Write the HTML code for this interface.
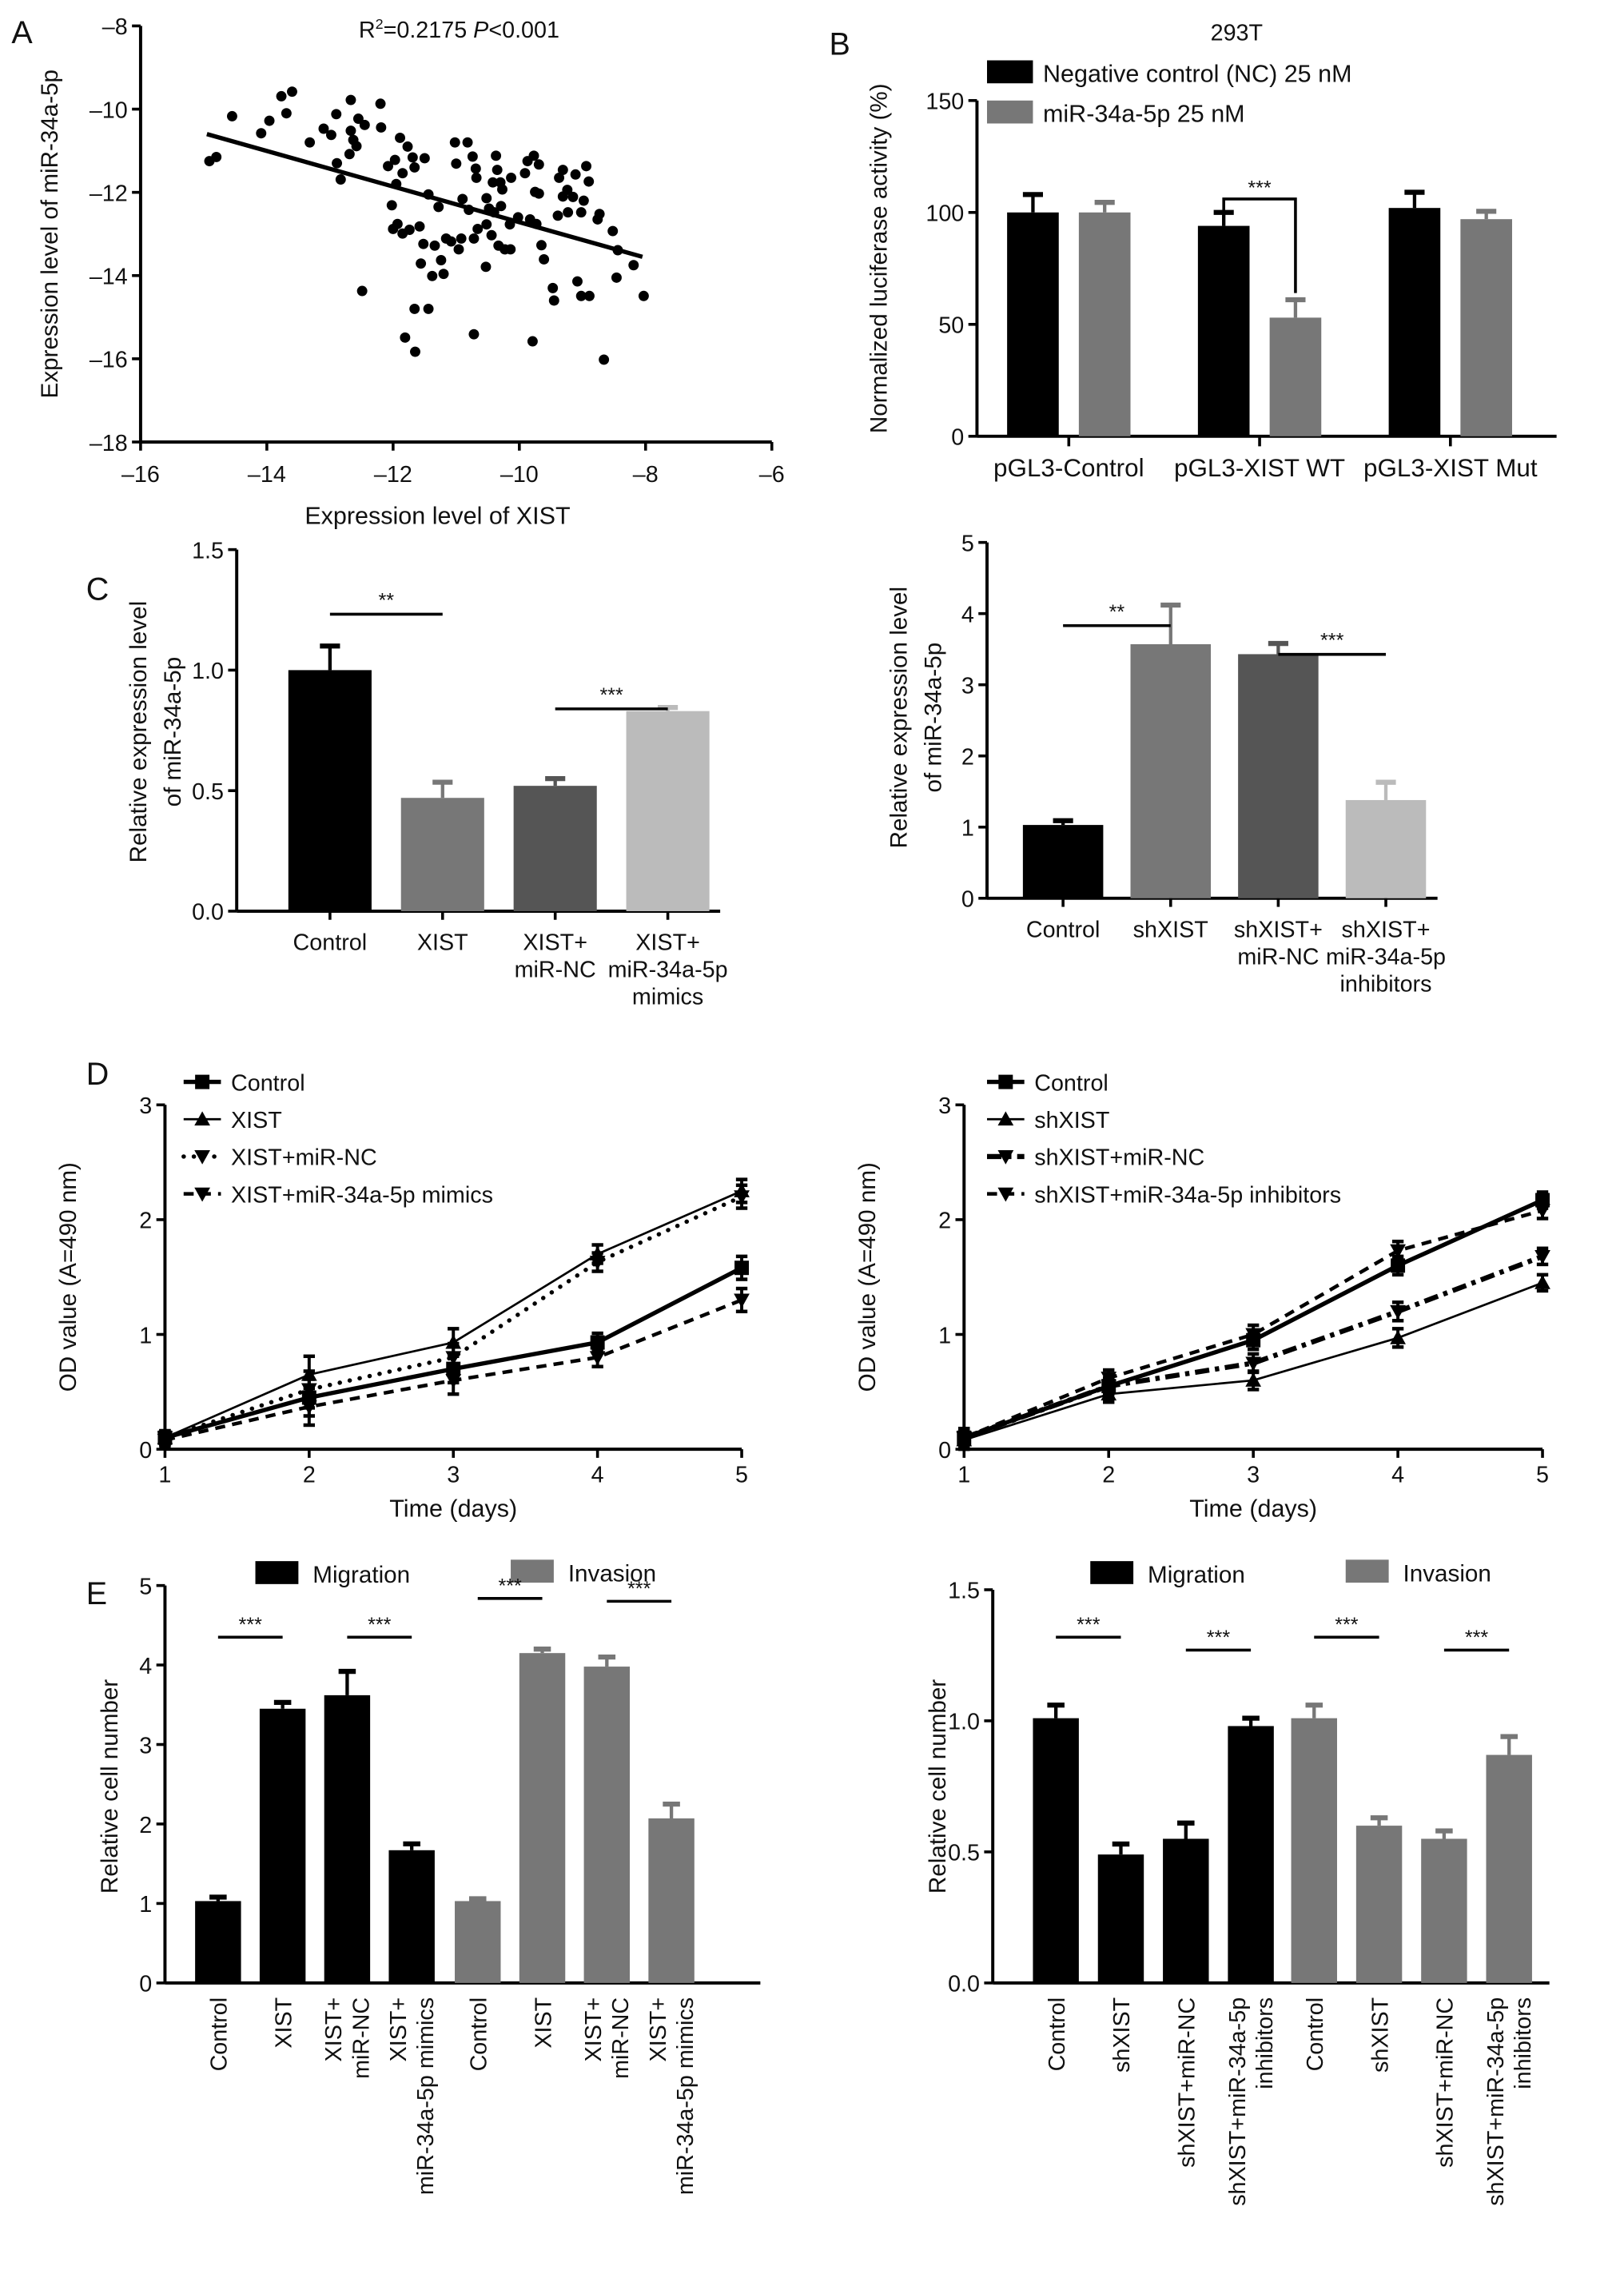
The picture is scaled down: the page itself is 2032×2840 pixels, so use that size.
<!DOCTYPE html>
<html><head><meta charset="utf-8"><style>
html,body{margin:0;padding:0;background:#fff;}
svg{display:block;font-family:"Liberation Sans",Arial,sans-serif;}
</style></head><body>
<svg id="fig" width="2032" height="2840" viewBox="0 0 1132 1582" xmlns="http://www.w3.org/2000/svg"></svg>
<script>
// ---------- data ----------
const scatterX=[-14.91,-14.8,-14.55,-14.09,-13.96,-13.77,-13.69,-13.6,-13.32,-13.1,-12.98,-12.9,-12.89,-12.83,-12.69,-12.67,-12.67,-12.63,-12.58,-12.55,-12.45,-12.49,-12.2,-12.19,-12.08,-12.02,-11.97,-11.95,-12.0,-11.93,-11.89,-11.85,-11.85,-11.77,-11.81,-11.74,-11.69,-11.66,-11.66,-11.65,-11.58,-11.56,-11.52,-11.5,-11.44,-11.44,-11.38,-11.34,-11.28,-11.24,-11.2,-11.16,-11.08,-11.02,-11.0,-10.96,-10.92,-10.9,-10.82,-10.8,-10.74,-10.72,-10.69,-10.68,-10.72,-10.66,-10.53,-10.52,-10.52,-10.48,-10.44,-10.42,-10.4,-10.37,-10.35,-10.33,-10.3,-10.29,-10.27,-10.23,-10.15,-10.14,-10.13,-10.02,-9.91,-9.87,-9.83,-9.79,-9.77,-9.75,-9.73,-9.69,-9.69,-9.65,-9.61,-9.47,-9.45,-9.39,-9.37,-9.31,-9.31,-9.24,-9.23,-9.15,-9.11,-9.08,-9.02,-9.02,-8.98,-8.94,-8.9,-8.89,-8.76,-8.73,-8.66,-8.52,-8.46,-8.44,-8.19,-8.03];
const scatterY=[-11.25,-11.15,-10.17,-10.58,-10.28,-9.69,-10.1,-9.58,-10.8,-10.47,-10.62,-10.12,-11.3,-11.69,-11.08,-9.78,-10.52,-10.74,-10.89,-10.23,-10.38,-14.37,-9.87,-10.44,-11.37,-12.31,-11.22,-11.8,-12.88,-12.76,-10.69,-11.54,-12.99,-10.9,-15.49,-12.9,-11.16,-11.4,-14.8,-15.83,-12.82,-13.71,-13.24,-11.18,-12.05,-14.8,-14.01,-13.28,-12.35,-13.63,-13.96,-13.11,-13.18,-10.8,-11.31,-13.37,-13.11,-12.16,-10.8,-12.42,-11.14,-13.11,-11.43,-11.65,-15.41,-12.88,-13.79,-12.14,-12.77,-12.39,-13.03,-11.76,-12.48,-11.12,-11.46,-13.28,-11.76,-12.33,-11.93,-13.37,-12.77,-13.37,-11.65,-12.6,-11.54,-11.25,-12.65,-15.58,-11.12,-11.99,-12.76,-11.33,-12.03,-13.27,-13.61,-14.3,-14.6,-12.56,-11.65,-11.46,-12.1,-11.94,-12.48,-12.11,-11.57,-14.14,-14.49,-12.48,-12.2,-11.37,-11.74,-14.49,-12.65,-12.52,-16.02,-12.93,-14.05,-13.39,-13.75,-14.49];
const fitX=[-14.95,-8.05];
const fitY=[-10.6,-13.55];

const bCategories=["pGL3-Control","pGL3-XIST WT","pGL3-XIST Mut"];
const bNC=[100,94,102];
const bNCerr=[8,6,7];
const bMiR=[100,53,97];
const bMiRerr=[4.5,8,3.5];

const cLeftCats=[["Control"],["XIST"],["XIST+","miR-NC"],["XIST+","miR-34a-5p","mimics"]];
const cLeftVals=[1.0,0.47,0.52,0.83];
const cLeftErr=[0.1,0.065,0.03,0.015];
const cRightCats=[["Control"],["shXIST"],["shXIST+","miR-NC"],["shXIST+","miR-34a-5p","inhibitors"]];
const cRightVals=[1.03,3.57,3.43,1.38];
const cRightErr=[0.06,0.55,0.15,0.25];

const dDays=[1,2,3,4,5];
const dLeftNames=["Control","XIST","XIST+miR-NC","XIST+miR-34a-5p mimics"];
const dLeftControl=[0.1,0.45,0.7,0.93,1.58];
const dLeftXIST=[0.1,0.65,0.93,1.7,2.25];
const dLeftNC=[0.1,0.52,0.8,1.63,2.2];
const dLeftMimics=[0.08,0.37,0.6,0.8,1.3];
const dLeftErr=[0.06,0.16,0.12,0.08,0.1];
const dRightNames=["Control","shXIST","shXIST+miR-NC","shXIST+miR-34a-5p inhibitors"];
const dRightControl=[0.1,0.55,0.95,1.6,2.17];
const dRightSh=[0.08,0.48,0.6,0.97,1.45];
const dRightNC=[0.1,0.55,0.75,1.2,1.68];
const dRightInh=[0.1,0.62,1.0,1.73,2.08];
const dRightErr=[0.08,0.07,0.08,0.08,0.07];

const eLeftCats=[["Control"],["XIST"],["XIST+","miR-NC"],["XIST+","miR-34a-5p mimics"]];
const eLeftMig=[1.03,3.45,3.62,1.67];
const eLeftMigErr=[0.05,0.08,0.3,0.08];
const eLeftInv=[1.03,4.15,3.98,2.07];
const eLeftInvErr=[0.03,0.05,0.12,0.18];
const eRightCats=[["Control"],["shXIST"],["shXIST+miR-NC"],["shXIST+miR-34a-5p","inhibitors"]];
const eRightMig=[1.01,0.49,0.55,0.98];
const eRightMigErr=[0.05,0.04,0.06,0.03];
const eRightInv=[1.01,0.6,0.55,0.87];
const eRightInvErr=[0.05,0.03,0.03,0.07];

// ---------- helpers ----------
const NS='http://www.w3.org/2000/svg';
const svg=document.getElementById('fig');
function el(tag,attrs,name,parent){
  const e=document.createElementNS(NS,tag);
  for(const k in attrs) e.setAttribute(k,attrs[k]);
  
  
  (parent||svg).appendChild(e);
  return e;
}
function txt(x,y,s,name,size,anchor,extra){
  const a={x:x,y:y,'font-size':size||16,'text-anchor':anchor||'middle',fill:'#111'};
  if(extra) for(const k in extra) a[k]=extra[k];
  const t=el('text',a,name);
  t.textContent=s;
  return t;
}
function line(x1,y1,x2,y2,name,w,extra){
  const a={x1:x1,y1:y1,x2:x2,y2:y2,stroke:'#000','stroke-width':w||2};
  if(extra) for(const k in extra) a[k]=extra[k];
  return el('line',a,name);
}
function fmtNeg(v){return v<0?'\u2013'+Math.abs(v):String(v);}
function yAxis(x,yOf,ticks,labels,top,bottom,name){
  line(x,top,x,bottom,name+'-line',2.2);
  ticks.forEach((v,i)=>{
    line(x-6,yOf(v),x,yOf(v),name+'-tick',2);
    txt(x-9,yOf(v)+6,labels[i],name+'-tick-label',16,'end');
  });
}
function ylabel(x,cy,lines,name){
  lines.forEach((s,i)=>{
    txt(x+i*24,cy,s,name,16.5,'middle',{transform:'rotate(-90 '+(x+i*24)+' '+cy+')'});
  });
}
function errBar(cx,yTop,yEnd,name,color,w){
  line(cx,yTop,cx,yEnd,name,2.4,{stroke:color||'#000'});
  line(cx-(w||7),yEnd,cx+(w||7),yEnd,name+'-cap',3.5,{stroke:color||'#000'});
}

// ---------- Panel A ----------
(function(){
  const ax=v=>98+(v+16)*44, ay=v=>18+(-8-v)*29;
  txt(8,30,'A','panel-label-a',22,'start');
  const t=txt(320,26,'','correlation-stats',16);
  const s1=document.createElementNS(NS,'tspan');s1.textContent='R';t.appendChild(s1);
  const s2=document.createElementNS(NS,'tspan');s2.setAttribute('font-size','10');s2.setAttribute('dy','-6');s2.textContent='2';t.appendChild(s2);
  const s3=document.createElementNS(NS,'tspan');s3.setAttribute('dy','6');s3.textContent='=0.2175  ';t.appendChild(s3);
  const s4=document.createElementNS(NS,'tspan');s4.setAttribute('font-style','italic');s4.textContent='P';t.appendChild(s4);
  const s5=document.createElementNS(NS,'tspan');s5.textContent='<0.001';t.appendChild(s5);
  yAxis(98,ay,[-8,-10,-12,-14,-16,-18],[-8,-10,-12,-14,-16,-18].map(fmtNeg),18,308,'a-y-axis');
  line(98,308,538,308,'a-x-axis-line',2.2);
  [-16,-14,-12,-10,-8,-6].forEach(v=>{
    line(ax(v),308,ax(v),314,'a-x-tick',2);
    txt(ax(v),336,fmtNeg(v),'a-x-tick-label',16);
  });
  txt(305,365,'Expression level of XIST','a-x-axis-title',17);
  ylabel(40,163,['Expression level of miR-34a-5p'],'a-y-axis-title');
  scatterX.forEach((v,i)=>{
    el('circle',{cx:ax(v),cy:ay(scatterY[i]),r:3.6,fill:'#000'},'scatter-point');
  });
  line(ax(fitX[0]),ay(fitY[0]),ax(fitX[1]),ay(fitY[1]),'regression-line',3);
})();

// ---------- Panel B ----------
(function(){
  const by=v=>304-v*1.56;
  txt(578,38,'B','panel-label-b',22,'start');
  txt(862,28,'293T','b-title',16);
  yAxis(681,by,[0,50,100,150],['0','50','100','150'],by(150),304,'b-y-axis');
  line(681,304,1085,304,'b-x-axis-line',2.2);
  ylabel(618,180,['Normalized luciferase activity (%)'],'b-y-axis-title');
  el('rect',{x:688,y:42,width:32,height:16,fill:'#000'},'legend-swatch-nc');
  txt(727,57,'Negative control (NC) 25 nM','legend-label-nc',17,'start');
  el('rect',{x:688,y:70,width:32,height:16,fill:'#777'},'legend-swatch-mir');
  txt(727,85,'miR-34a-5p 25 nM','legend-label-mir',17,'start');
  const groupC=i=>745+i*133;
  bCategories.forEach((c,i)=>{
    const g=groupC(i);
    line(g,304,g,311,'b-x-tick',2);
    txt(g,332,c,'b-x-tick-label',17.5);
    errBar(g-25,by(bNC[i]),by(bNC[i]+bNCerr[i]),'b-error-nc','#000');
    el('rect',{x:g-43,y:by(bNC[i]),width:36,height:304-by(bNC[i]),fill:'#000'},'bar-nc');
    errBar(g+25,by(bMiR[i]),by(bMiR[i]+bMiRerr[i]),'b-error-mir','#777');
    el('rect',{x:g+7,y:by(bMiR[i]),width:36,height:304-by(bMiR[i]),fill:'#777'},'bar-mir');
  });
  const g=groupC(1);
  el('polyline',{points:(g-25)+','+by(100)+' '+(g-25)+','+by(106)+' '+(g+25)+','+by(106)+' '+(g+25)+','+by(64),fill:'none',stroke:'#000','stroke-width':2},'b-significance-bracket');
  txt(g,by(108),'***','b-significance-stars',14);
})();

// ---------- Bar panels C ----------
function barPanel(o){
  yAxis(o.x0,o.y,o.ticks,o.tickLabels,o.y(o.ticks[o.ticks.length-1]),o.base,o.name+'-y-axis');
  line(o.x0,o.base,o.x1,o.base,o.name+'-x-axis-line',2.2);
  o.vals.forEach((v,i)=>{
    const cx=o.first+i*o.step;
    errBar(cx,o.y(v),o.y(v+o.err[i]),o.name+'-error',o.colors[i]);
    el('rect',{x:cx-o.w/2,y:o.y(v),width:o.w,height:o.base-o.y(v),fill:o.colors[i]},o.name+'-bar');
    line(cx,o.base,cx,o.base+6,o.name+'-x-tick',2);
    o.cats[i].forEach((s,j)=>txt(cx,o.base+27+j*19,s,o.name+'-x-tick-label',16));
  });
  o.sig.forEach(s=>{
    const xa=o.first+s[0]*o.step, xb=o.first+s[1]*o.step;
    line(xa,s[2],xb,s[2],o.name+'-significance-line',2);
    txt((xa+xb)/2,s[2]-5,s[3],o.name+'-significance-stars',14);
  });
}
txt(60,418,'C','panel-label-c',22,'start');
barPanel({name:'c-left',x0:165,x1:502,base:635,y:v=>635-v*168,ticks:[0,0.5,1,1.5],tickLabels:['0.0','0.5','1.0','1.5'],
  vals:cLeftVals,err:cLeftErr,cats:cLeftCats,first:230,step:78.5,w:58,colors:['#000','#777','#555','#bbb'],
  sig:[[0,1,428,'**'],[2,3,494,'***']]});
ylabel(102,510,['Relative expression level','of miR-34a-5p'],'c-left-y-axis-title');
barPanel({name:'c-right',x0:688,x1:1002,base:626,y:v=>626-v*49.6,ticks:[0,1,2,3,4,5],tickLabels:['0','1','2','3','4','5'],
  vals:cRightVals,err:cRightErr,cats:cRightCats,first:741,step:75,w:56,colors:['#000','#777','#555','#bbb'],
  sig:[[0,1,436,'**'],[2,3,456,'***']]});
ylabel(632,500,['Relative expression level','of miR-34a-5p'],'c-right-y-axis-title');

// ---------- Line panels D ----------
function triPath(x,y,up){const s=5.5;return up?`M${x-s},${y+s*0.8}L${x+s},${y+s*0.8}L${x},${y-s}Z`:`M${x-s},${y-s*0.8}L${x+s},${y-s*0.8}L${x},${y+s}Z`;}
function marker(kind,x,y,name){
  if(kind==='sq') el('rect',{x:x-5,y:y-5,width:10,height:10,fill:'#000'},name);
  else el('path',{d:triPath(x,y,kind==='up'),fill:'#000'},name);
}
function linePanel(o){
  const X=d=>o.x0+(d-1)*o.dx, Y=v=>1010-v*80;
  yAxis(o.x0,Y,[0,1,2,3],['0','1','2','3'],Y(3),1010,o.name+'-y-axis');
  line(o.x0,1010,X(5),1010,o.name+'-x-axis-line',2.2);
  dDays.forEach(d=>{line(X(d),1010,X(d),1016,o.name+'-x-tick',2);txt(X(d),1033,String(d),o.name+'-x-tick-label',16);});
  txt(X(3),1057,'Time (days)','time-axis-title',17);
  ylabel(o.x0-62,890,['OD value (A=490 nm)'],o.name+'-y-axis-title');
  o.series.forEach((s,k)=>{
    const pts=dDays.map((d,i)=>X(d)+','+Y(s.v[i])).join(' ');
    el('polyline',{points:pts,fill:'none',stroke:'#000','stroke-width':s.w,'stroke-dasharray':s.dash||'none','stroke-linecap':s.cap||'butt'},o.name+'-series-'+k);
    dDays.forEach((d,i)=>{
      const e=o.err[i];
      line(X(d),Y(s.v[i]-e),X(d),Y(s.v[i]+e),o.name+'-error-bar',2.2);
      line(X(d)-4,Y(s.v[i]+e),X(d)+4,Y(s.v[i]+e),o.name+'-error-cap',2.5);
      line(X(d)-4,Y(s.v[i]-e),X(d)+4,Y(s.v[i]-e),o.name+'-error-cap',2.5);
      marker(s.m,X(d),Y(s.v[i]),o.name+'-marker');
    });
    const ly=o.legY+k*26;
    el('line',{x1:o.legX,y1:ly,x2:o.legX+26,y2:ly,stroke:'#000','stroke-width':s.w,'stroke-dasharray':s.dash||'none','stroke-linecap':s.cap||'butt'},o.name+'-legend-line');
    marker(s.m,o.legX+13,ly,o.name+'-legend-marker');
    txt(o.legX+33,ly+6,s.n,o.name+'-legend-label',16,'start');
  });
}
txt(60,756,'D','panel-label-d',22,'start');
linePanel({name:'d-left',x0:115,dx:100.5,legX:128,legY:754,err:dLeftErr,series:[
  {n:dLeftNames[0],v:dLeftControl,w:3,m:'sq'},
  {n:dLeftNames[1],v:dLeftXIST,w:1.5,m:'up'},
  {n:dLeftNames[2],v:dLeftNC,w:3,m:'down',dash:'0.1 7',cap:'round'},
  {n:dLeftNames[3],v:dLeftMimics,w:2.5,m:'down',dash:'7 5'}]});
linePanel({name:'d-right',x0:672,dx:100.8,legX:688,legY:754,err:dRightErr,series:[
  {n:dRightNames[0],v:dRightControl,w:3,m:'sq'},
  {n:dRightNames[1],v:dRightSh,w:1.5,m:'up'},
  {n:dRightNames[2],v:dRightNC,w:3.5,m:'down',dash:'10 4 3 4'},
  {n:dRightNames[3],v:dRightInh,w:2.5,m:'down',dash:'7 5'}]});

// ---------- Panels E ----------
function ePanel(o){
  yAxis(o.x0,o.y,o.ticks,o.tickLabels,o.y(o.ticks[o.ticks.length-1]),1382,o.name+'-y-axis');
  line(o.x0,1382,o.x1,1382,o.name+'-x-axis-line',2.2);
  ylabel(o.x0-33,1245,['Relative cell number'],o.name+'-y-axis-title');
  el('rect',{x:o.legX,y:1088,width:30,height:16,fill:'#000'},o.name+'-legend-swatch-migration');
  txt(o.legX+40,1103,'Migration','legend-label-migration',16.5,'start');
  el('rect',{x:o.legX+178,y:1087,width:30,height:16,fill:'#777'},o.name+'-legend-swatch-invasion');
  txt(o.legX+218,1102,'Invasion','legend-label-invasion',16.5,'start');
  [[o.mig,o.migErr,'#000',o.f1],[o.inv,o.invErr,'#777',o.f2]].forEach((grp,gi)=>{
    grp[0].forEach((v,i)=>{
      const cx=grp[3]+i*o.step;
      errBar(cx,o.y(v),o.y(v+grp[1][i]),o.name+'-error',grp[2],6);
      el('rect',{x:cx-16,y:o.y(v),width:32,height:1382-o.y(v),fill:grp[2]},o.name+(gi?'-bar-invasion':'-bar-migration'));
      const lines=o.cats[i];
      lines.forEach((s,j)=>{
        const lx=cx+6-(lines.length-1-j)*19+(lines.length-1)*9;
        txt(lx,1392,s,o.name+'-x-tick-label',16,'end',{transform:'rotate(-90 '+lx+' 1392)'});
      });
    });
    o.sig.forEach(s=>{
      const xa=grp[3]+s[0]*o.step, xb=grp[3]+s[1]*o.step, yy=s[2+gi];
      line(xa,yy,xb,yy,o.name+'-significance-line',2);
      txt((xa+xb)/2,yy-4,'***',o.name+'-significance-stars',14);
    });
  });
}
txt(60,1118,'E','panel-label-e',22,'start');
ePanel({name:'e-left',x0:115,x1:530,y:v=>1382-v*55.4,ticks:[0,1,2,3,4,5],tickLabels:['0','1','2','3','4','5'],
  legX:178,mig:eLeftMig,migErr:eLeftMigErr,inv:eLeftInv,invErr:eLeftInvErr,cats:eLeftCats,f1:152,f2:333,step:45,
  sig:[[0,1,1141,1114],[2,3,1141,1116]]});
ePanel({name:'e-right',x0:692,x1:1080,y:v=>1382-v*182.7,ticks:[0,0.5,1,1.5],tickLabels:['0.0','0.5','1.0','1.5'],
  legX:760,mig:eRightMig,migErr:eRightMigErr,inv:eRightInv,invErr:eRightInvErr,cats:eRightCats,f1:736,f2:916,step:45.3,
  sig:[[0,1,1141,1141],[2,3,1150,1150]]});
</script>
</body></html>
